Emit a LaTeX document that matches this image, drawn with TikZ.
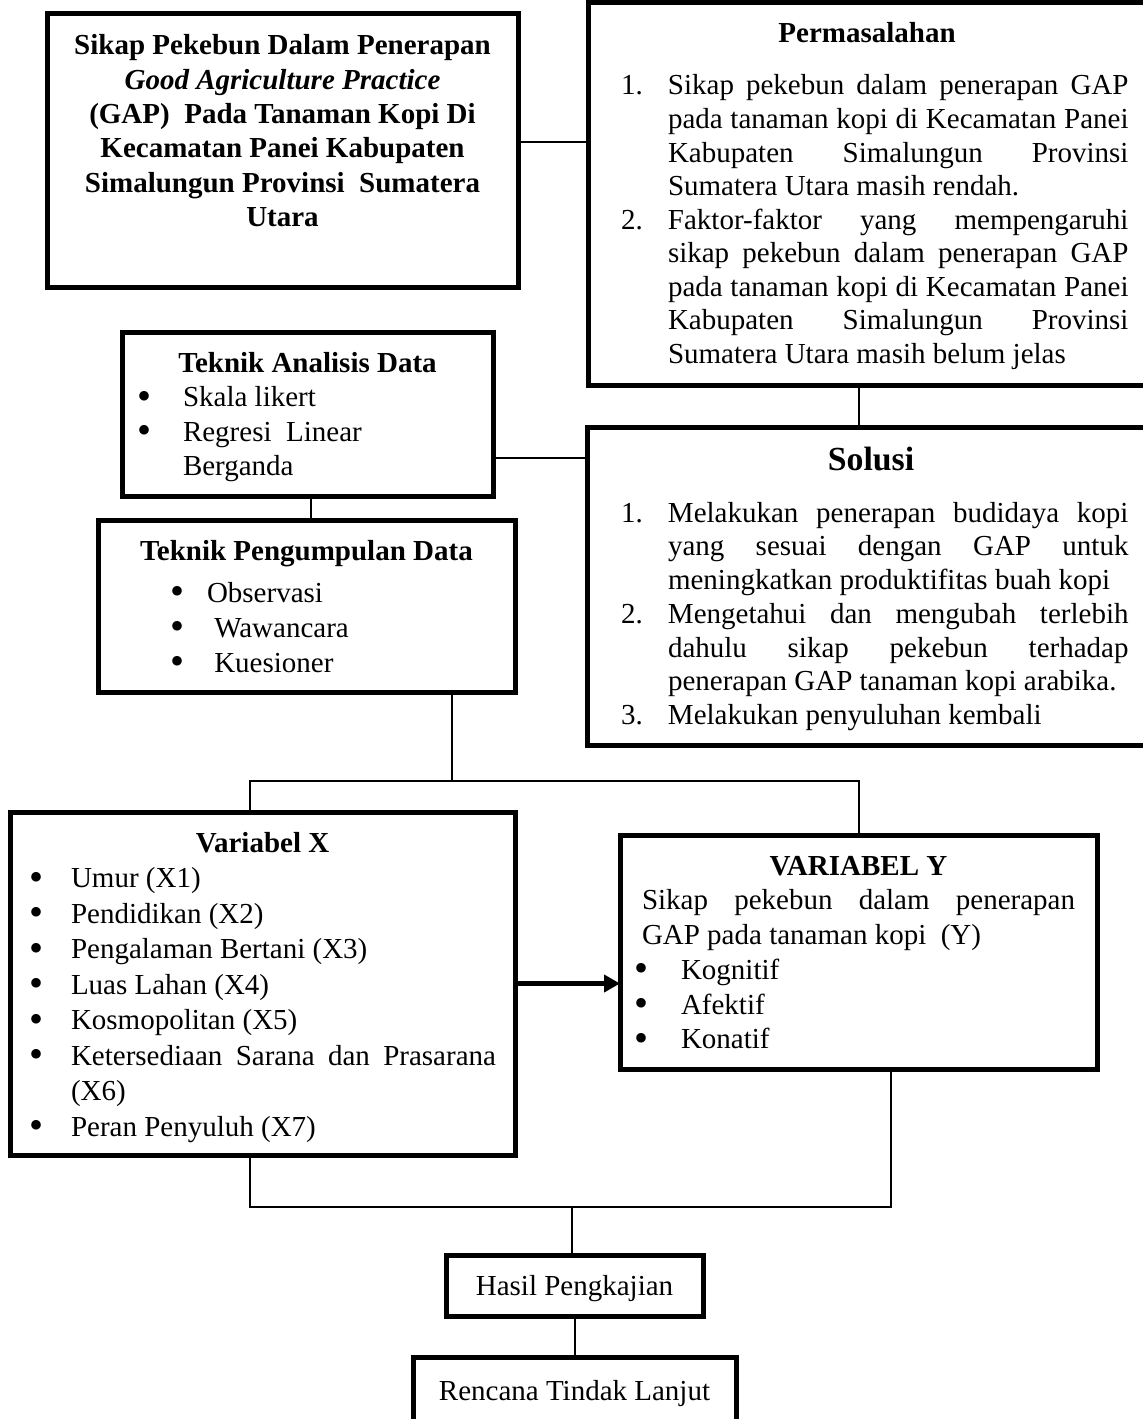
\documentclass[tikz,border=0pt]{standalone}
\usepackage{fontspec}
\setmainfont{Liberation Serif}
\usepackage{tikz}
\usetikzlibrary{arrows.meta,positioning}
\newcommand{\butir}[4][0pt]{\par\hangindent=\dimexpr#1+#2\relax\hangafter=1\noindent\hspace*{#1}\makebox[#2][l]{#3}#4}
\newcommand{\bulat}{\raisebox{-1pt}{\fontsize{16}{16}\selectfont\textbullet}}
\hyphenpenalty=10000
\exhyphenpenalty=10000
\tolerance=9999
\emergencystretch=2em
\adjdemerits=0
\hbadness=10000

\begin{document}
\begin{tikzpicture}[
  x=0.4pt, y=-0.4pt,
  kotak/.style={draw, line width=2pt, anchor=north west, outer sep=0pt, inner ysep=0pt, align=justify},
  kotakkecil/.style={draw, line width=2pt, outer sep=0pt, inner sep=0pt, text height=8.5pt, text depth=0.5pt, font=\fontsize{11.6}{13.6}\selectfont},
  garis/.style={line width=0.8pt},
  >={Triangle[length=6.4pt,width=6.8pt]}
]
  \useasboundingbox (0,0) rectangle (1143,1419);

  \node[kotak, align=flush center, text width=176pt, inner xsep=6.2pt, text height=16.4pt, text depth=92.8pt, font=\fontsize{11.6}{13.7}\selectfont\bfseries] (judul) at (47,14)
    {Sikap Pekebun Dalam Penerapan\\ \textit{Good Agriculture Practice}\\ (GAP)\ \ Pada Tanaman Kopi Di\\ Kecamatan Panei Kabupaten\\ Simalungun Provinsi\ \ Sumatera\\ Utara};

  \node[kotak, text width=203pt, inner xsep=13.2pt, text height=16pt, text depth=136.8pt, font=\fontsize{11.6}{13.4}\selectfont] (masalah) at (588,3) {%
    \centerline{\bfseries Permasalahan\hspace*{6.2pt}}\par\vspace{7.4pt}%
    \butir{18.8pt}{1.}{Sikap pekebun dalam penerapan GAP\linebreak pada tanaman kopi di Kecamatan Panei\linebreak Kabupaten Simalungun Provinsi\linebreak Sumatera Utara masih rendah.}%
    \butir{18.8pt}{2.}{Faktor-faktor yang mempengaruhi\linebreak sikap pekebun dalam penerapan GAP\linebreak pada tanaman kopi di Kecamatan Panei\linebreak Kabupaten Simalungun Provinsi\linebreak Sumatera Utara masih belum jelas}\par};

  \node[kotak, text width=136.4pt, inner xsep=6pt, text height=16pt, text depth=49.6pt, font=\fontsize{11.6}{13.8}\selectfont] (analisis) at (122,332) {%
    \centerline{\bfseries Teknik Analisis Data}%
    \butir{18.4pt}{\bulat}{Skala likert}%
    \butir{18.4pt}{\bulat}{Regresi\ \ Linear\newline Berganda}\par};

  \node[kotak, text width=203pt, inner xsep=13.6pt, text height=17.2pt, text depth=110pt, font=\fontsize{11.6}{13.5}\selectfont] (solusi) at (587,427) {%
    \centerline{\fontsize{13.5}{13.5}\selectfont\bfseries Solusi\hspace*{3pt}}\par\vspace{7.3pt}%
    \butir{18.8pt}{1.}{Melakukan penerapan budidaya kopi\linebreak yang sesuai dengan GAP untuk\linebreak meningkatkan produktifitas buah kopi}%
    \butir{18.8pt}{2.}{Mengetahui dan mengubah terlebih\linebreak dahulu sikap pekebun terhadap\linebreak penerapan GAP tanaman kopi arabika.}%
    \butir{18.8pt}{3.}{Melakukan penyuluhan kembali}\par};

  \node[kotak, text width=154.8pt, inner xsep=6pt, text height=16pt, text depth=52.8pt, font=\fontsize{11.6}{14}\selectfont] (kumpul) at (98,520) {%
    \centerline{\bfseries Teknik Pengumpulan Data}\par\vspace{2.8pt}%
    \butir[22.8pt]{14.8pt}{\bulat}{Observasi}%
    \butir[22.8pt]{14.8pt}{\bulat}{\ Wawancara}%
    \butir[22.8pt]{14.8pt}{\bulat}{\ Kuesioner}\par};

  \node[kotak, text width=186.8pt, inner xsep=7.6pt, text height=16pt, text depth=121.2pt, font=\fontsize{11.6}{14.2}\selectfont] (varx) at (10,812) {%
    \centerline{\bfseries Variabel X}%
    \butir{16.8pt}{\bulat}{Umur (X1)}%
    \butir{16.8pt}{\bulat}{Pendidikan (X2)}%
    \butir{16.8pt}{\bulat}{Pengalaman Bertani (X3)}%
    \butir{16.8pt}{\bulat}{Luas Lahan (X4)}%
    \butir{16.8pt}{\bulat}{Kosmopolitan (X5)}%
    \butir{16.8pt}{\bulat}{Ketersediaan Sarana dan Prasarana\linebreak (X6)}%
    \butir{16.8pt}{\bulat}{Peran Penyuluh (X7)}\par};

  \node[kotak, text width=173.2pt, inner xsep=8.8pt, text height=16pt, text depth=77.6pt, font=\fontsize{11.6}{13.9}\selectfont] (vary) at (620,835) {%
    \centerline{\bfseries VARIABEL Y}\par
    \noindent Sikap pekebun dalam penerapan\linebreak GAP pada tanaman kopi\ \ (Y)%
    \butir[-3.2pt]{18.8pt}{\bulat}{Kognitif}%
    \butir[-3.2pt]{18.8pt}{\bulat}{Afektif}%
    \butir[-3.2pt]{18.8pt}{\bulat}{Konatif}\par};

  \node[kotakkecil, minimum width=102.8pt, minimum height=24.4pt] (hasil) at (574.5,1285.5) {Hasil Pengkajian};
  \node[kotakkecil, minimum width=129.2pt, minimum height=26.4pt, below=16.4pt of hasil] (rencana) {Rencana Tindak Lanjut};

  % penghubung
  \coordinate (cabang) at (452,781);
  \coordinate (gabung) at (572,1207);
  \draw[garis] ([yshift=3.4pt]judul.east) -- ([yshift=3.4pt]judul.east -| masalah.west);
  \draw[garis] ([xshift=-6.3pt]masalah.south) -- ([xshift=-6.3pt]masalah.south |- solusi.north);
  \draw[garis] ([yshift=-17.6pt]analisis.east) -- ([yshift=-17.6pt]analisis.east -| solusi.west);
  \draw[garis] ([xshift=1.4pt]analisis.south) -- ([xshift=1.4pt]analisis.south |- kumpul.north);
  \draw[garis] (cabang |- kumpul.south) -- (cabang);
  \draw[garis] ([xshift=-5pt]varx.north) |- (cabang) -| (vary.north);
  \draw[->, line width=2pt] (varx.east) -- (varx.east -| vary.west);
  \draw[garis] ([xshift=-5pt]varx.south) |- (gabung) -| ([xshift=13pt]vary.south);
  \draw[garis] (gabung) -- (gabung |- hasil.north);
  \draw[garis] (hasil) -- (rencana);
\end{tikzpicture}
\end{document}
